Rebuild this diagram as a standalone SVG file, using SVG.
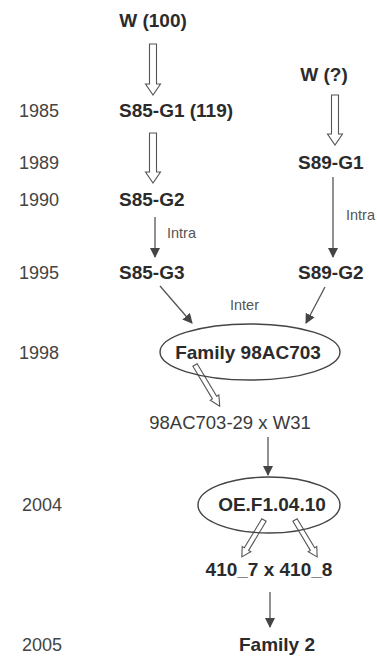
<svg xmlns="http://www.w3.org/2000/svg" width="377" height="657" viewBox="0 0 377 657">
<defs>
<style>
.n{font-family:"Liberation Sans",Arial,sans-serif;font-weight:bold;font-size:19px;fill:#2b2b2b}
.r{font-family:"Liberation Sans",Arial,sans-serif;font-size:18.5px;fill:#3a3a3a}
.y{font-family:"Liberation Sans",Arial,sans-serif;font-size:18px;fill:#444}
.s{font-family:"Liberation Sans",Arial,sans-serif;font-size:14.5px;fill:#555}
.h{fill:#fff;stroke:#555;stroke-width:1.1}
.l{fill:none;stroke:#555;stroke-width:1.3}
.e{fill:none;stroke:#444;stroke-width:1.4}
</style>
<marker id="ah" markerWidth="10" markerHeight="10" refX="9" refY="5" orient="auto" markerUnits="userSpaceOnUse">
<path d="M0,0 L10,5 L0,10 Z" fill="#444"/>
</marker>
</defs>
<rect width="377" height="657" fill="#fff"/>
<g id="years">
<text class="y" x="19" y="117">1985</text>
<text class="y" x="19" y="169">1989</text>
<text class="y" x="19" y="206">1990</text>
<text class="y" x="19" y="279">1995</text>
<text class="y" x="19" y="359">1998</text>
<text class="y" x="22" y="511">2004</text>
<text class="y" x="22" y="651">2005</text>
</g>
<g id="connectors">
<polygon class="h" points="149.5,44 156.5,44 156.5,84 160.5,84 153,95 145.5,84 149.5,84"/>
<polygon class="h" points="149.5,133 156.5,133 156.5,172 160.5,172 153,183 145.5,172 149.5,172"/>
<polygon class="h" points="331.5,95 338.5,95 338.5,134 342.5,134 335,145 327.5,134 331.5,134"/>
<line class="l" x1="155" y1="217" x2="155" y2="257" marker-end="url(#ah)"/>
<line class="l" x1="333" y1="177" x2="333" y2="257" marker-end="url(#ah)"/>
<line class="l" x1="160" y1="286" x2="192" y2="323" marker-end="url(#ah)"/>
<line class="l" x1="325" y1="287" x2="306" y2="323" marker-end="url(#ah)"/>
<polygon class="h" transform="translate(195,365) rotate(59)" points="0,-2.5 38,-2.5 38,-5 48,0 38,5 38,2.5 0,2.5"/>
<line class="l" x1="268" y1="437" x2="268" y2="475" marker-end="url(#ah)"/>
<polygon class="h" transform="translate(264,520) rotate(121)" points="0,-2.5 34,-2.5 34,-5 43,0 34,5 34,2.5 0,2.5"/>
<polygon class="h" transform="translate(295,520) rotate(59)" points="0,-2.5 34,-2.5 34,-5 43,0 34,5 34,2.5 0,2.5"/>
<line class="l" x1="270" y1="592" x2="270" y2="627" marker-end="url(#ah)"/>
<text class="s" x="167" y="238">Intra</text>
<text class="s" x="346" y="220">Intra</text>
<text class="s" x="230" y="310">Inter</text>
</g>
<g id="w100"><text class="n" x="153" y="27" text-anchor="middle">W (100)</text></g>
<g id="wq"><text class="n" x="324" y="81" text-anchor="middle">W (?)</text></g>
<g id="s85g1"><text class="n" x="119" y="117">S85-G1 (119)</text></g>
<g id="s89g1"><text class="n" x="298" y="169">S89-G1</text></g>
<g id="s85g2"><text class="n" x="119" y="206">S85-G2</text></g>
<g id="s85g3"><text class="n" x="119" y="279">S85-G3</text></g>
<g id="s89g2"><text class="n" x="298" y="279">S89-G2</text></g>
<g id="fam98">
<ellipse class="e" cx="250" cy="352" rx="90" ry="28"/>
<text class="n" x="248" y="359" text-anchor="middle">Family 98AC703</text>
</g>
<g id="cross1"><text class="r" x="230" y="429" text-anchor="middle">98AC703-29 x W31</text></g>
<g id="oef">
<ellipse class="e" cx="269" cy="505" rx="71" ry="28"/>
<text class="n" x="272" y="511" text-anchor="middle">OE.F1.04.10</text>
</g>
<g id="cross2"><text class="n" x="269" y="576" text-anchor="middle">410_7 x 410_8</text></g>
<g id="fam2"><text class="n" x="277" y="651" text-anchor="middle">Family 2</text></g>
</svg>
